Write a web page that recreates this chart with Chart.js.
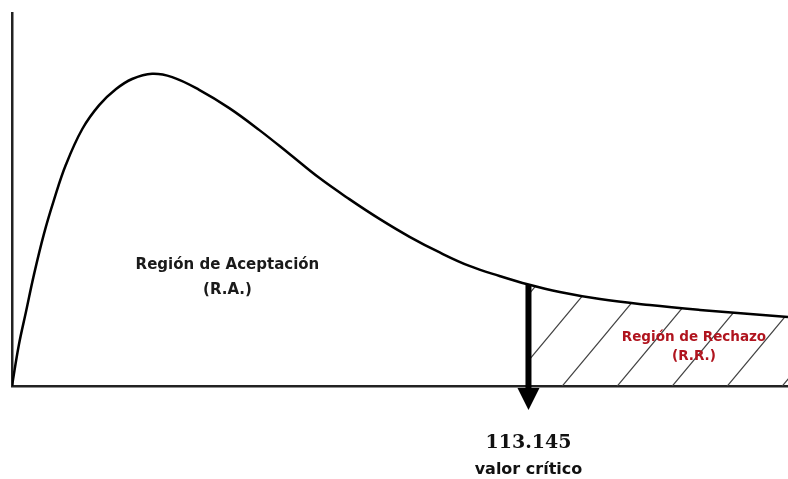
<!DOCTYPE html>
<html>
<head>
<meta charset="utf-8">
<script src="https://cdn.jsdelivr.net/npm/chart.js@4.4.1/dist/chart.umd.min.js"></script>
<style>
  html, body { margin: 0; padding: 0; background: #fff; }
</style>
</head>
<body>
<canvas id="chart" width="788" height="479"></canvas>
<script>
// curve (x in arbitrary statistic units, y in density units)
const curveX = [0, 1.5, 3.1, 4.8, 7, 9.2, 11.8, 15.4, 19.1, 22.8, 26.3, 30.7, 35.1, 41, 47.6, 54.2, 60.8, 67.3, 73.9, 80.5, 87.1, 93.7, 100.2, 106.8, 113.145, 120, 128.8, 139.7, 150.7, 161.7, 170];
const curveY = [0, 11.0, 20.1, 29.8, 40.8, 49.9, 59.3, 68.9, 75.3, 79.6, 82.3, 83.7, 82.8, 79.4, 74.5, 68.6, 62.2, 55.8, 50.1, 44.8, 40.0, 35.8, 32.2, 29.5, 27.2, 25.2, 23.3, 21.7, 20.4, 19.3, 18.5];
const criticalValue = 113.145;
const xRange = [0, 170];
const yRange = [0, 100];
const acceptLabel = ['Región de Aceptación', '(R.A.)'];
const rejectLabel = ['Región de Rechazo', '(R.R.)'];
const criticalLabel = ['113.145', 'valor crítico'];

const curve = curveX.map((x, i) => ({ x: x, y: curveY[i] }));
const rejection = curve.filter(p => p.x >= criticalValue);
const criticalY = curveY[curveX.indexOf(criticalValue)];

function makeHatch() {
    const w = 55, h = 66;
    const c = document.createElement('canvas');
    c.width = w;
    c.height = h;
    const g = c.getContext('2d');
    g.strokeStyle = '#444';
    g.lineWidth = 1.2;
    g.beginPath();
    for (let k = -1; k <= 1; k++) {
        g.moveTo(k * w - w, 2 * h);
        g.lineTo(k * w + 2 * w, -h);
    }
    g.stroke();
    const pattern = document.getElementById('chart').getContext('2d').createPattern(c, 'repeat');
    pattern.setTransform(new DOMMatrix().translate(4, 0));
    return pattern;
}

const overlay = {
    id: 'overlay',
    afterDatasetsDraw(chart) {
        const ctx = chart.ctx;
        const x = chart.scales.x;
        const y = chart.scales.y;
        const cx = x.getPixelForValue(criticalValue);
        const top = y.getPixelForValue(criticalY);
        const base = y.getPixelForValue(0);

        ctx.save();
        // arrow at the critical value
        ctx.fillStyle = '#000';
        ctx.fillRect(cx - 3, top, 6, base - top + 4);
        ctx.beginPath();
        ctx.moveTo(cx - 11, base + 2);
        ctx.lineTo(cx + 11, base + 2);
        ctx.lineTo(cx, base + 24);
        ctx.closePath();
        ctx.fill();

        ctx.textAlign = 'center';
        ctx.textBaseline = 'middle';

        ctx.fillStyle = '#1a1a1a';
        ctx.font = 'bold 15px "DejaVu Sans"';
        ctx.fillText(acceptLabel[0], x.getPixelForValue(47.2), y.getPixelForValue(32.4));
        ctx.fillText(acceptLabel[1], x.getPixelForValue(47.2), y.getPixelForValue(25.7));

        ctx.fillStyle = '#b0141e';
        ctx.font = 'bold 13.5px "DejaVu Sans"';
        ctx.fillText(rejectLabel[0], x.getPixelForValue(149.4), y.getPixelForValue(13.1));
        ctx.fillText(rejectLabel[1], x.getPixelForValue(149.4), y.getPixelForValue(8.0));

        ctx.fillStyle = '#111';
        ctx.font = 'bold 19px "DejaVu Serif"';
        ctx.fillText(criticalLabel[0], cx, base + 57);
        ctx.font = 'bold 16px "DejaVu Sans"';
        ctx.fillText(criticalLabel[1], cx, base + 84);
        ctx.restore();
    }
};

const chart = new Chart(document.getElementById('chart').getContext('2d'), {
    type: 'line',
    data: {
        datasets: [
            {
                data: curve,
                borderColor: '#000',
                borderWidth: 2.5,
                pointRadius: 0,
                tension: 0.4,
                fill: false,
                order: 0
            },
            {
                data: rejection,
                borderWidth: 0,
                borderColor: 'rgba(0,0,0,0)',
                backgroundColor: makeHatch(),
                pointRadius: 0,
                tension: 0.4,
                fill: 'origin',
                order: 1
            }
        ]
    },
    options: {
        responsive: false,
        animation: false,
        layout: {
            padding: { top: 13, left: 12, right: 0, bottom: 93 }
        },
        plugins: {
            legend: { display: false },
            tooltip: { enabled: false }
        },
        scales: {
            x: {
                type: 'linear',
                min: xRange[0],
                max: xRange[1],
                ticks: { display: false },
                grid: { display: false, drawTicks: false },
                border: { display: true, color: '#222', width: 2.5 }
            },
            y: {
                min: yRange[0],
                max: yRange[1],
                ticks: { display: false },
                grid: { display: false, drawTicks: false },
                border: { display: true, color: '#222', width: 2.5 }
            }
        }
    },
    plugins: [overlay]
});
</script>
</body>
</html>
